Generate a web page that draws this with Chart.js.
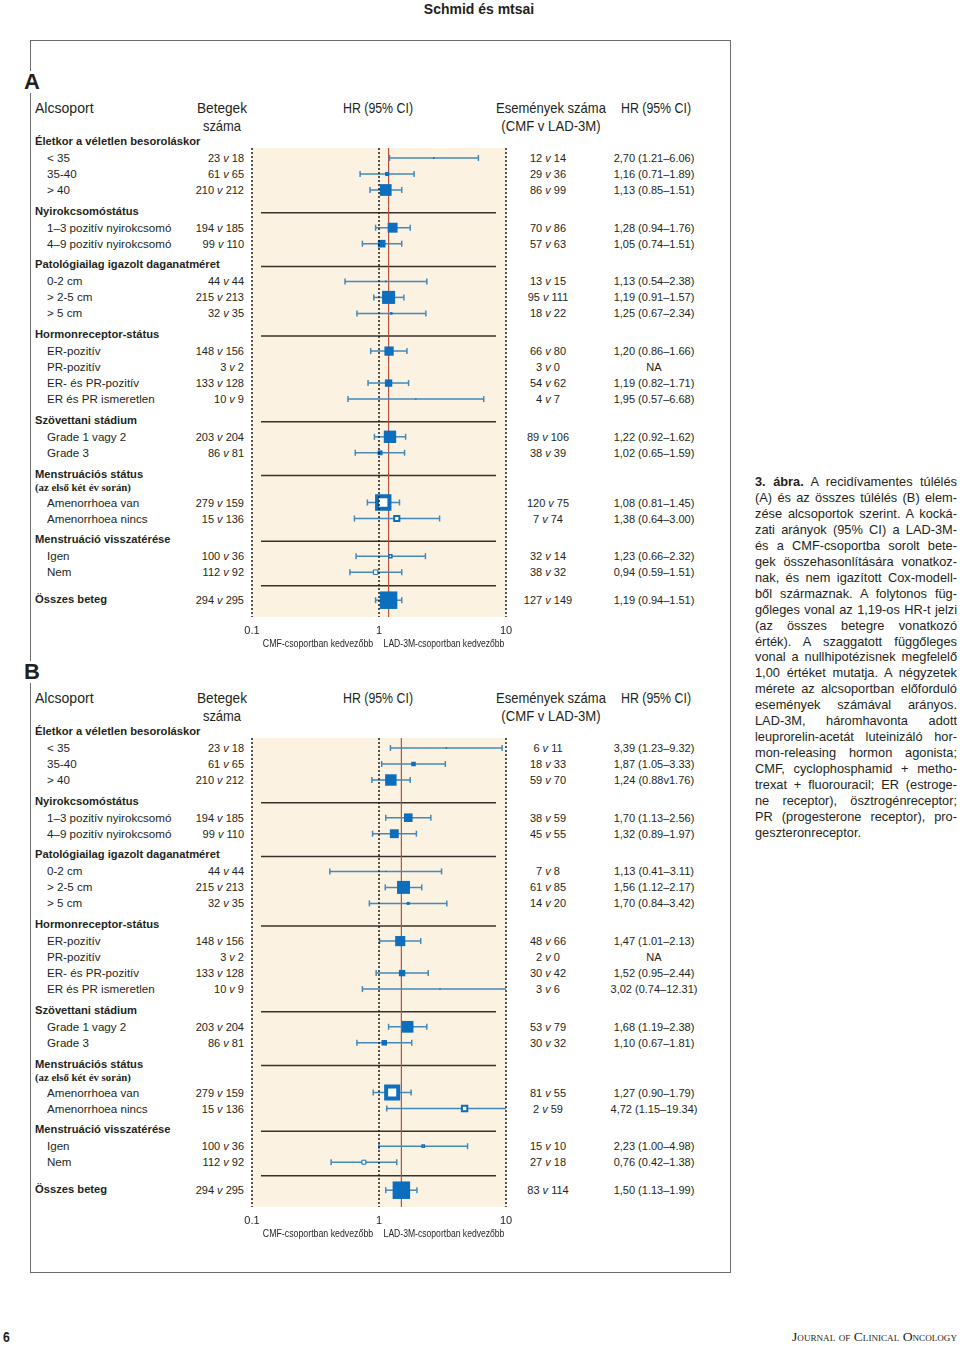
<!DOCTYPE html>
<html>
<head>
<meta charset="utf-8">
<script src="https://cdn.jsdelivr.net/npm/chart.js@4.4.1/dist/chart.umd.min.js"></script>
<style>
  body { margin: 0; background: #fff; }
  #page { position: relative; width: 960px; height: 1345px; overflow: hidden;
          font-family: 'Liberation Sans', Arial, sans-serif; color: #231f20; }
  .t { position: absolute; white-space: nowrap; line-height: 1; }
  #frame { position: absolute; left: 30px; top: 40px; width: 699px; height: 1231px; border: 1.5px solid #6d6d6d; }
  canvas { position: absolute; }
  #caption { position: absolute; left: 755px; top: 474px; width: 202px; font-size: 12.8px; line-height: 15.95px; }
  #caption div { text-align: justify; text-align-last: justify; white-space: nowrap; }
  #caption div:last-child { text-align-last: left; }
</style>
</head>
<body>
<div id="page">
  <div id="frame"></div>
  <div id="caption"></div>
</div>
<script>
// Subgroups (same rows in both panels)
const groupNames = ['Életkor a véletlen besoroláskor', 'Nyirokcsomóstátus', 'Patológiailag igazolt daganatméret',
    'Hormonreceptor-státus', 'Szövettani stádium', 'Menstruációs státus', 'Menstruáció visszatérése'];
const groupNotes = [null, null, null, null, null, '(az első két év során)', null];
const groupSizes = [3, 2, 3, 4, 2, 2, 2];
const subgroupLabels = ['< 35', '35-40', '> 40', '1–3 pozitív nyirokcsomó', '4–9 pozitív nyirokcsomó',
    '0-2 cm', '> 2-5 cm', '> 5 cm', 'ER-pozitív', 'PR-pozitív', 'ER- és PR-pozitív', 'ER és PR ismeretlen',
    'Grade 1 vagy 2', 'Grade 3', 'Amenorrhoea van', 'Amenorrhoea nincs', 'Igen', 'Nem', 'Összes beteg'];

// Betegek száma (CMF v LAD-3M)
const patientsCMF = [23, 61, 210, 194, 99, 44, 215, 32, 148, 3, 133, 10, 203, 86, 279, 15, 100, 112, 294];
const patientsLAD = [18, 65, 212, 185, 110, 44, 213, 35, 156, 2, 128, 9, 204, 81, 159, 136, 36, 92, 295];

// A: recidívamentes túlélés
const eventsCMF_A = [12, 29, 86, 70, 57, 13, 95, 18, 66, 3, 54, 4, 89, 38, 120, 7, 32, 38, 127];
const eventsLAD_A = [14, 36, 99, 86, 63, 15, 111, 22, 80, 0, 62, 7, 106, 39, 75, 74, 14, 32, 149];
const hrA = [2.70, 1.16, 1.13, 1.28, 1.05, 1.13, 1.19, 1.25, 1.20, null, 1.19, 1.95, 1.22, 1.02, 1.08, 1.38, 1.23, 0.94, 1.19];
const loA = [1.21, 0.71, 0.85, 0.94, 0.74, 0.54, 0.91, 0.67, 0.86, null, 0.82, 0.57, 0.92, 0.65, 0.81, 0.64, 0.66, 0.59, 0.94];
const hiA = [6.06, 1.89, 1.51, 1.76, 1.51, 2.38, 1.57, 2.34, 1.66, null, 1.71, 6.68, 1.62, 1.59, 1.45, 3.00, 2.32, 1.51, 1.51];

// B: összes túlélés
const eventsCMF_B = [6, 18, 59, 38, 45, 7, 61, 14, 48, 2, 30, 3, 53, 30, 81, 2, 15, 27, 83];
const eventsLAD_B = [11, 33, 70, 59, 55, 8, 85, 20, 66, 0, 42, 6, 79, 32, 55, 59, 10, 18, 114];
const hrB = [3.39, 1.87, 1.24, 1.70, 1.32, 1.13, 1.56, 1.70, 1.47, null, 1.52, 3.02, 1.68, 1.10, 1.27, 4.72, 2.23, 0.76, 1.50];
const loB = [1.23, 1.05, 0.88, 1.13, 0.89, 0.41, 1.12, 0.84, 1.01, null, 0.95, 0.74, 1.19, 0.67, 0.90, 1.15, 1.00, 0.42, 1.13];
const hiB = [9.32, 3.33, 1.76, 2.56, 1.97, 3.11, 2.17, 3.42, 2.13, null, 2.44, 12.31, 2.38, 1.81, 1.79, 19.34, 4.98, 1.38, 1.99];
const hrTextFixB = { 2: '1,24 (0.88v1.76)' };   // as printed

const tickValues = [0.1, 1, 10];
const tickLabels = ['0.1', '1', '10'];

const captionLines = [
    'A recidívamentes túlélés',
    '(A) és az összes túlélés (B) elem-',
    'zése alcsoportok szerint. A kocká-',
    'zati arányok (95% CI) a LAD-3M-',
    'és a CMF-csoportba sorolt bete-',
    'gek összehasonlítására vonatkoz-',
    'nak, és nem igazított Cox-modell-',
    'ből származnak. A folytonos füg-',
    'gőleges vonal az 1,19-os HR-t jelzi',
    '(az összes betegre vonatkozó',
    'érték). A szaggatott függőleges',
    'vonal a nullhipotézisnek megfelelő',
    '1,00 értéket mutatja. A négyzetek',
    'mérete az alcsoportban előforduló',
    'események számával arányos.',
    'LAD-3M, háromhavonta adott',
    'leuprorelin-acetát luteinizáló hor-',
    'mon-releasing hormon agonista;',
    'CMF, cyclophosphamid + metho-',
    'trexat + fluorouracil; ER (estroge-',
    'ne receptor), ösztrogénreceptor;',
    'PR (progesterone receptor), pro-',
    'geszteronreceptor.'
];

// styles
const boxColor = '#0d6ebd';
const ciColor = '#4489ba';
const shadeColor = '#fcf2e2';
const refColor = '#b5533d';
const sepColor = '#3a3029';
const dotColor = '#1c1c1c';
const hollowBorder = { 14: 4, 15: 2, 16: 1.5, 17: 1 };

const page = document.getElementById('page');

// place a text; o.w squeezes it horizontally to a given width (condensed look)
function txt(html, x, y, o = {}) {
    const d = document.createElement('div');
    d.className = 't';
    d.innerHTML = html;
    d.style.left = x + 'px';
    d.style.top = y + 'px';
    d.style.fontSize = (o.size || 11) + 'px';
    if (o.bold) d.style.fontWeight = 'bold';
    if (o.serif) d.style.fontFamily = "'Liberation Serif', 'DejaVu Serif', serif";
    if (o.smallcaps) d.style.fontVariant = 'small-caps';
    if (o.bg) d.style.background = o.bg;
    page.appendChild(d);
    const sx = o.w ? o.w / d.offsetWidth : 1;
    const tx = o.align === 'right' ? '-100%' : o.align === 'center' ? '-50%' : '0';
    const origin = o.align === 'right' ? 'right' : o.align === 'center' ? 'center' : 'left';
    d.style.transformOrigin = origin + ' center';
    d.style.transform = `translate(${tx},-50%) scaleX(${sx})`;
}

const fmt = v => v.toFixed(2);

// vertical placement of header/item rows
function layoutRows(firstY) {
    let y = firstY;
    const headerY = [], rowY = [], sepY = [];
    let noteY = null;
    groupNames.forEach((name, g) => {
        if (g > 0) { y += 21.7; sepY.push(y + 1); }
        headerY.push(y);
        if (groupNotes[g]) { y += 12; noteY = y; }
        for (let i = 0; i < groupSizes[g]; i++) { y += 16; rowY.push(y); }
    });
    y += 28;
    sepY.push(y - 14.5);
    rowY.push(y);
    return { headerY, rowY, sepY, noteY };
}

function buildPanel(letter, firstY, evC, evL, hr, lo, hi, hrFix) {
    const headY = firstY - 35;
    txt(letter, 24, firstY - 60, { bold: true, size: 22, bg: '#fff' });
    txt('Alcsoport', 35, headY, { size: 15, w: 59 });
    txt('Betegek', 222, headY, { size: 15, w: 50, align: 'center' });
    txt('száma', 222, headY + 18, { size: 15, w: 38, align: 'center' });
    txt('HR (95% CI)', 378, headY, { size: 15, w: 70, align: 'center' });
    txt('Események száma', 551, headY, { size: 15, w: 110, align: 'center' });
    txt('(CMF v LAD-3M)', 551, headY + 18, { size: 15, w: 99, align: 'center' });
    txt('HR (95% CI)', 656, headY, { size: 15, w: 70, align: 'center' });

    const L = layoutRows(firstY);
    groupNames.forEach((name, g) => txt(name, 35, L.headerY[g], { bold: true, size: 11.2 }));
    txt(groupNotes[5], 35, L.noteY, { bold: true, serif: true, size: 10.8 });

    const last = subgroupLabels.length - 1;
    subgroupLabels.forEach((label, i) => {
        const y = L.rowY[i];
        if (i === last) txt(label, 35, y, { bold: true, size: 11.2 });
        else txt(label, 47, y, { size: 11.6 });
        txt(`${patientsCMF[i]} <i>v</i> ${patientsLAD[i]}`, 244, y, { size: 11, align: 'right' });
        txt(`${evC[i]} <i>v</i> ${evL[i]}`, 548, y, { size: 11, align: 'center' });
        let hrText = 'NA';
        if (hr[i] !== null) hrText = fmt(hr[i]).replace('.', ',') + ` (${fmt(lo[i])}–${fmt(hi[i])})`;
        if (hrFix && hrFix[i]) hrText = hrFix[i];
        txt(hrText, 654, y, { size: 11, align: 'center' });
    });

    // plot
    const shadeTop = firstY + 6;
    const plotH = 469;
    const canvas = document.createElement('canvas');
    canvas.width = 284;
    canvas.height = plotH + 22;
    canvas.style.left = '237px';
    canvas.style.top = shadeTop + 'px';
    page.appendChild(canvas);

    const totalEvents = evC[last] + evL[last];
    const refHR = hr[last];
    const datasets = [];
    const boxPts = [], boxR = [], boxFill = [], boxBW = [];
    hr.forEach((v, i) => {
        if (v === null) return;
        const y = L.rowY[i] - shadeTop;
        datasets.push({
            data: [{ x: lo[i], y: y }, { x: hi[i], y: y }],
            showLine: true,
            borderColor: ciColor,
            borderWidth: 1.5,
            pointStyle: 'line',
            rotation: 90,
            pointRadius: 3,
            pointBorderWidth: 1.5,
            pointBorderColor: ciColor,
            order: 2
        });
        const side = Math.max(1.4, 17.5 * (evC[i] + evL[i]) / totalEvents);
        boxPts.push({ x: v, y: y });
        boxR.push(side / Math.SQRT2);
        boxFill.push(hollowBorder[i] ? '#ffffff' : boxColor);
        boxBW.push(hollowBorder[i] || 0);
    });
    datasets.push({
        data: boxPts,
        pointStyle: 'rect',
        pointRadius: boxR,
        pointBackgroundColor: boxFill,
        pointBorderColor: boxColor,
        pointBorderWidth: boxBW,
        order: 1
    });

    const decor = {
        id: 'decor',
        beforeDatasetsDraw(chart) {
            const { ctx, chartArea: a, scales } = chart;
            ctx.save();
            ctx.fillStyle = shadeColor;
            ctx.fillRect(a.left, a.top, a.right - a.left, a.bottom - a.top);
            ctx.strokeStyle = sepColor;
            ctx.lineWidth = 1.5;
            L.sepY.forEach(sy => {
                const py = scales.y.getPixelForValue(sy - shadeTop);
                ctx.beginPath();
                ctx.moveTo(a.left + 9, py);
                ctx.lineTo(a.right - 10, py);
                ctx.stroke();
            });
            const rx = scales.x.getPixelForValue(refHR);
            ctx.strokeStyle = refColor;
            ctx.lineWidth = 1.2;
            ctx.beginPath();
            ctx.moveTo(rx, a.top);
            ctx.lineTo(rx, a.bottom);
            ctx.stroke();
            ctx.restore();
        },
        afterDatasetsDraw(chart) {
            const { ctx, chartArea: a, scales } = chart;
            ctx.save();
            ctx.strokeStyle = dotColor;
            ctx.lineWidth = 1.5;
            ctx.setLineDash([2, 2]);
            tickValues.forEach(v => {
                const px = Math.round(scales.x.getPixelForValue(v));
                ctx.beginPath();
                ctx.moveTo(px, a.top);
                ctx.lineTo(px, a.bottom);
                ctx.stroke();
            });
            ctx.restore();
        }
    };

    new Chart(canvas, {
        type: 'scatter',
        data: { datasets },
        options: {
            responsive: false,
            animation: false,
            events: [],
            layout: { autoPadding: false, padding: { left: 15, right: 15, top: 0, bottom: 0 } },
            plugins: { legend: { display: false }, tooltip: { enabled: false } },
            scales: {
                x: {
                    type: 'logarithmic',
                    min: 0.1,
                    max: 10,
                    grid: { display: false, drawTicks: false },
                    border: { display: false },
                    afterBuildTicks: s => { s.ticks = tickValues.map(v => ({ value: v })); },
                    afterFit: s => { s.height = 22; },
                    ticks: {
                        autoSkip: false,
                        maxRotation: 0,
                        padding: 7,
                        color: '#231f20',
                        font: { family: 'Liberation Sans', size: 11 },
                        callback: (v, i) => tickLabels[i]
                    }
                },
                y: { type: 'linear', display: false, min: 0, max: plotH, reverse: true }
            }
        },
        plugins: [decor]
    });

    txt('CMF-csoportban kedvezőbb', 318, firstY + 502, { size: 11.5, w: 110, align: 'center' });
    txt('LAD-3M-csoportban kedvezőbb', 444, firstY + 502, { size: 11.5, w: 121, align: 'center' });
}

buildPanel('A', 142, eventsCMF_A, eventsLAD_A, hrA, loA, hiA, null);
buildPanel('B', 732, eventsCMF_B, eventsLAD_B, hrB, loB, hiB, hrTextFixB);

// page header, footer, caption
txt('Schmid és mtsai', 479, 8, { bold: true, size: 15, w: 110, align: 'center' });
txt('6', 3, 1337, { bold: true, size: 14, w: 7 });
txt('Journal of Clinical Oncology', 957, 1337, { serif: true, smallcaps: true, size: 12, w: 165, align: 'right' });

const cap = document.getElementById('caption');
captionLines.forEach((line, i) => {
    const d = document.createElement('div');
    if (i === 0) d.innerHTML = '<b>3. ábra.</b> ' + line;
    else d.textContent = line;
    cap.appendChild(d);
});
</script>
</body>
</html>
